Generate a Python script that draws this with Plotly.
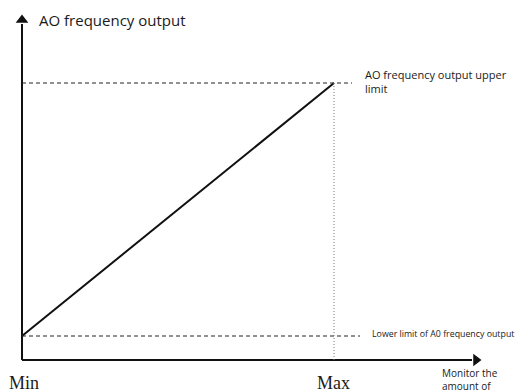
import plotly.graph_objects as go

# Monitored quantity (x) and AO frequency output (y), normalised
monitor_range = [0.0, 1.0]          # Min .. Max of the monitored quantity
output_range = [0.0, 1.0]           # lower .. upper AO frequency output limit
tick_labels = ["Min", "Max"]

W, H = 516, 392
# axis geometry (plot units): 312 px per x unit, 253 px per y unit
x_px, y_px = 312.0, 253.0
x0_px, y0_px = 22.0, 336.0
xr = [-x0_px / x_px, (W - x0_px) / x_px]
yr = [(y0_px - H) / y_px, y0_px / y_px]

def px_x(p):
    return (p - x0_px) / x_px

def px_y(p):
    return (y0_px - p) / y_px

axis_y = px_y(360)          # baseline of the horizontal axis

fig = go.Figure()

# transfer characteristic: linear from lower limit at Min to upper limit at Max
fig.add_trace(go.Scatter(
    x=monitor_range, y=output_range, mode="lines",
    line=dict(color="#111111", width=2), hoverinfo="skip"))

shapes = [
    # axes
    dict(type="line", x0=0, x1=px_x(472), y0=axis_y, y1=axis_y,
         line=dict(color="#111111", width=2)),
    dict(type="line", x0=0, x1=0, y0=axis_y, y1=px_y(24),
         line=dict(color="#111111", width=2)),
    # upper limit dashed guide
    dict(type="line", x0=0, x1=px_x(352), y0=output_range[1], y1=output_range[1],
         line=dict(color="#222222", width=1, dash="4px,3px")),
    # lower limit dashed guide
    dict(type="line", x0=0, x1=px_x(360), y0=output_range[0], y1=output_range[0],
         line=dict(color="#222222", width=1, dash="4px,3px")),
    # Max dotted guide
    dict(type="line", x0=monitor_range[1], x1=monitor_range[1],
         y0=output_range[1], y1=axis_y,
         line=dict(color="#777777", width=1, dash="1px,2px")),
]

# arrow heads
fig.add_trace(go.Scatter(
    x=[0], y=[px_y(20)], mode="markers",
    marker=dict(symbol="triangle-up", size=11, color="#111111"),
    hoverinfo="skip"))
fig.add_trace(go.Scatter(
    x=[px_x(476)], y=[axis_y], mode="markers",
    marker=dict(symbol="triangle-right", size=11, color="#111111"),
    hoverinfo="skip"))

sans = "Open Sans"
serif = "Liberation Serif"
ann = [
    dict(x=px_x(37), y=px_y(20), text="AO frequency output", xanchor="left",
         yanchor="middle", font=dict(family=sans, size=15, color="#1a1a1a")),
    dict(x=px_x(363), y=px_y(81), text="AO frequency output upper<br>limit",
         xanchor="left", yanchor="middle", align="left",
         font=dict(family=sans, size=11, color="#1a1a1a")),
    dict(x=px_x(370), y=px_y(334), text="Lower limit of A0 frequency output",
         xanchor="left", yanchor="middle",
         font=dict(family=sans, size=8.8, color="#1a1a1a")),
    dict(x=px_x(440), y=px_y(379), text="Monitor the<br>amount of",
         xanchor="left", yanchor="middle", align="left",
         font=dict(family=sans, size=10, color="#1a1a1a")),
    dict(x=px_x(7), y=px_y(383), text=tick_labels[0], xanchor="left",
         yanchor="middle", font=dict(family=serif, size=18, color="#1a1a1a")),
    dict(x=monitor_range[1] + px_x(315) - px_x(334), y=px_y(383),
         text=tick_labels[1], xanchor="left",
         yanchor="middle", font=dict(family=serif, size=18, color="#1a1a1a")),
]
for a in ann:
    a.update(showarrow=False, xref="x", yref="y")

fig.update_layout(
    width=W, height=H, autosize=False,
    margin=dict(l=0, r=0, t=0, b=0, pad=0),
    paper_bgcolor="white", plot_bgcolor="white",
    showlegend=False, shapes=shapes, annotations=ann,
    xaxis=dict(range=xr, visible=False, fixedrange=True),
    yaxis=dict(range=yr, visible=False, fixedrange=True),
)

fig.write_html("out.html")
